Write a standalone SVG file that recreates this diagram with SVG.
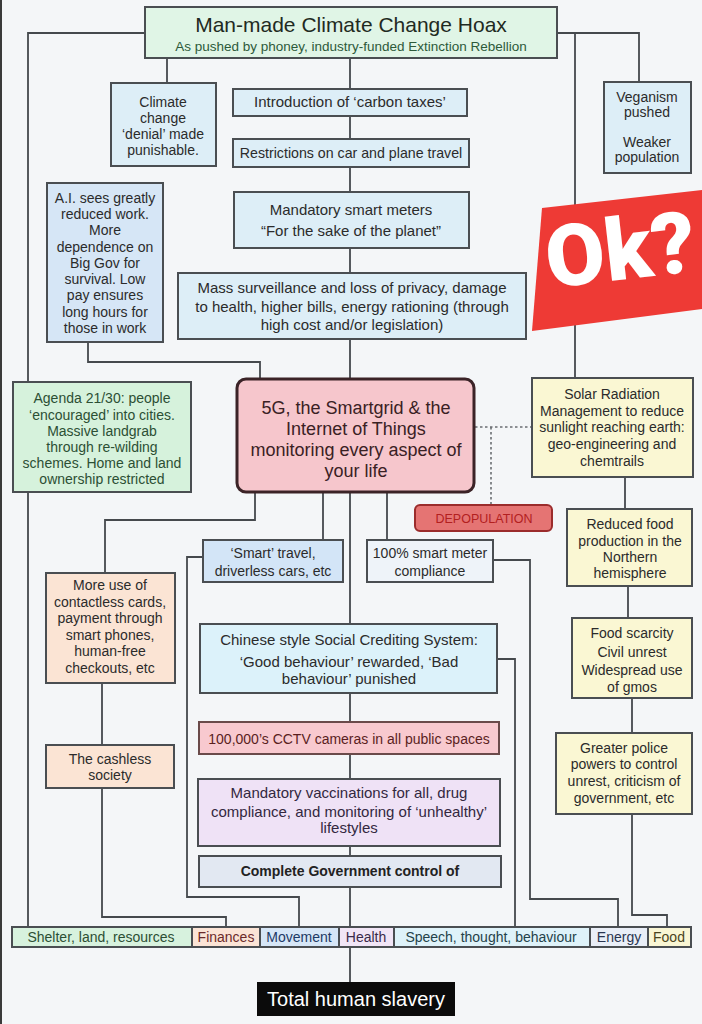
<svg xmlns="http://www.w3.org/2000/svg" width="702" height="1024" viewBox="0 0 702 1024">
<style>
.ln{stroke:#45494d;stroke-width:1.8;fill:none}
.dt{stroke:#6a6e72;stroke-width:1.6;fill:none;stroke-dasharray:2.5 2.5}
.bx{stroke:#4a4e52;stroke-width:2}
.t{font-family:"Liberation Sans",Arial,sans-serif;font-size:14px;fill:#2b2b2b;text-anchor:middle}
.m{font-size:15px}
.g{fill:#2c4f34}
</style>
<rect x="0" y="0" width="702" height="1024" fill="#f4f6f8"/>
<rect x="0" y="0" width="2" height="1024" fill="#3a3a3a"/>
<g id="connectors">
<path class="ln" d="M145 33H28V927"/>
<path class="ln" d="M167 58V83"/>
<path class="ln" d="M350 58V379"/>
<path class="ln" d="M557 33H639V82"/>
<path class="ln" d="M575 33V378"/>
<path class="ln" d="M88 342V362H260V379"/>
<path class="dt" d="M475 427H532M491 427V505"/>
<path class="ln" d="M625 477V509"/>
<path class="ln" d="M628 586V618"/>
<path class="ln" d="M632 698V733"/>
<path class="ln" d="M632 814V915H667V927"/>
<path class="ln" d="M255 492V520H105V573"/>
<path class="ln" d="M323 492V540"/>
<path class="ln" d="M387 492V540"/>
<path class="ln" d="M350 492V982"/>
<path class="ln" d="M203 557H187V897H299V927"/>
<path class="ln" d="M493 560H530V899H618V927"/>
<path class="ln" d="M102 683V745"/>
<path class="ln" d="M102 788V917H226V927"/>
<path class="ln" d="M497 659H515V927"/>
</g>
<g id="title">
<rect class="bx" x="145" y="7" width="412" height="51" fill="#e0f5e6"/>
<text class="t" x="351" y="32" style="font-size:21px;fill:#1f2a22">Man-made Climate Change Hoax</text>
<text class="t" x="351" y="51" style="font-size:13.5px;fill:#2d5a3a">As pushed by phoney, industry-funded Extinction Rebellion</text>
</g>
<g id="denial">
<rect class="bx" x="111" y="83" width="105" height="83" fill="#ddeef7"/>
<text class="t" x="163" y="107">Climate</text>
<text class="t" x="163" y="123">change</text>
<text class="t" x="163" y="139">‘denial’ made</text>
<text class="t" x="163" y="155">punishable.</text>
</g>
<g id="carbon">
<rect class="bx" x="233" y="89" width="234" height="27" fill="#ddeef7"/>
<text class="t m" x="350" y="107">Introduction of ‘carbon taxes’</text>
</g>
<g id="restrictions">
<rect class="bx" x="233" y="139" width="236" height="28" fill="#ddeef7"/>
<text class="t" x="351" y="158" style="font-size:14.2px">Restrictions on car and plane travel</text>
</g>
<g id="veganism">
<rect class="bx" x="604" y="82" width="87" height="91" fill="#ddeef7"/>
<text class="t" x="647" y="102">Veganism</text>
<text class="t" x="647" y="117">pushed</text>
<text class="t" x="647" y="147">Weaker</text>
<text class="t" x="647" y="162">population</text>
</g>
<g id="ai">
<rect class="bx" x="47" y="183" width="116" height="159" fill="#d6e6f6"/>
<text class="t" x="105" y="203">A.I. sees greatly</text>
<text class="t" x="105" y="219">reduced work.</text>
<text class="t" x="105" y="235">More</text>
<text class="t" x="105" y="252">dependence on</text>
<text class="t" x="105" y="268">Big Gov for</text>
<text class="t" x="105" y="284">survival. Low</text>
<text class="t" x="105" y="300">pay ensures</text>
<text class="t" x="105" y="317">long hours for</text>
<text class="t" x="105" y="333">those in work</text>
</g>
<g id="meters">
<rect class="bx" x="234" y="192" width="235" height="56" fill="#ddeef7"/>
<text class="t m" x="351" y="215">Mandatory smart meters</text>
<text class="t m" x="351" y="236">“For the sake of the planet”</text>
</g>
<g id="surveillance">
<rect class="bx" x="178" y="273" width="348" height="66" fill="#ddeef7"/>
<text class="t m" x="352" y="293">Mass surveillance and loss of privacy, damage</text>
<text class="t m" x="352" y="312">to health, higher bills, energy rationing (through</text>
<text class="t m" x="352" y="330">high cost and/or legislation)</text>
</g>
<g id="ok">
<polygon points="542,208 702,190 702,309 532,331" fill="#ee3a35"/>
<text x="549" y="288" transform="rotate(-6.5 549 288)" style="font-family:Roboto,'Liberation Sans',sans-serif;font-weight:900;font-size:86px;fill:#ffffff">Ok?</text>
</g>
<g id="agenda">
<rect class="bx" x="13" y="382" width="178" height="110" fill="#d6f2dc"/>
<text class="t g" x="102" y="403">Agenda 21/30: people</text>
<text class="t g" x="102" y="420">‘encouraged’ into cities.</text>
<text class="t g" x="102" y="436">Massive landgrab</text>
<text class="t g" x="102" y="452">through re-wilding</text>
<text class="t g" x="102" y="468">schemes. Home and land</text>
<text class="t g" x="102" y="484">ownership restricted</text>
</g>
<g id="fiveg">
<rect x="237" y="379" width="237" height="113" rx="9" fill="#f6c6cc" stroke="#3b2327" stroke-width="3"/>
<text class="t" x="356" y="414" style="font-size:18px;fill:#3a2124">5G, the Smartgrid &amp; the</text>
<text class="t" x="356" y="435" style="font-size:18px;fill:#3a2124">Internet of Things</text>
<text class="t" x="356" y="456" style="font-size:18px;fill:#3a2124">monitoring every aspect of</text>
<text class="t" x="356" y="477" style="font-size:18px;fill:#3a2124">your life</text>
</g>
<g id="solar">
<rect class="bx" x="532" y="378" width="161" height="99" fill="#faf7d3"/>
<text class="t" x="612" y="399">Solar Radiation</text>
<text class="t" x="612" y="416">Management to reduce</text>
<text class="t" x="612" y="432">sunlight reaching earth:</text>
<text class="t" x="612" y="449">geo-engineering and</text>
<text class="t" x="612" y="466">chemtrails</text>
</g>
<g id="depopulation">
<rect x="415" y="505" width="137" height="26" rx="5" fill="#e57473" stroke="#9b2c2c" stroke-width="2"/>
<text class="t" x="484" y="523" style="font-size:12.5px;fill:#b3201f">DEPOPULATION</text>
</g>
<g id="reduced">
<rect class="bx" x="567" y="509" width="125" height="77" fill="#faf7d3"/>
<text class="t" x="630" y="529">Reduced food</text>
<text class="t" x="630" y="546">production in the</text>
<text class="t" x="630" y="562">Northern</text>
<text class="t" x="630" y="578">hemisphere</text>
</g>
<g id="scarcity">
<rect class="bx" x="572" y="618" width="120" height="80" fill="#faf7d3"/>
<text class="t" x="632" y="638">Food scarcity</text>
<text class="t" x="632" y="657">Civil unrest</text>
<text class="t" x="632" y="675">Widespread use</text>
<text class="t" x="632" y="692">of gmos</text>
</g>
<g id="police">
<rect class="bx" x="556" y="733" width="136" height="81" fill="#faf7d3"/>
<text class="t" x="624" y="753">Greater police</text>
<text class="t" x="624" y="769">powers to control</text>
<text class="t" x="624" y="786">unrest, criticism of</text>
<text class="t" x="624" y="803">government, etc</text>
</g>
<g id="travel">
<rect class="bx" x="203" y="540" width="140" height="42" fill="#d3e5f7"/>
<text class="t" x="273" y="558">‘Smart’ travel,</text>
<text class="t" x="273" y="576">driverless cars, etc</text>
</g>
<g id="compliance">
<rect class="bx" x="367" y="540" width="126" height="42" fill="#eef3f9"/>
<text class="t" x="430" y="558">100% smart meter</text>
<text class="t" x="430" y="576">compliance</text>
</g>
<g id="contactless">
<rect class="bx" x="46" y="573" width="129" height="110" fill="#fbe4d4"/>
<text class="t" x="110" y="590">More use of</text>
<text class="t" x="110" y="607">contactless cards,</text>
<text class="t" x="110" y="623">payment through</text>
<text class="t" x="110" y="640">smart phones,</text>
<text class="t" x="110" y="656">human-free</text>
<text class="t" x="110" y="673">checkouts, etc</text>
</g>
<g id="cashless">
<rect class="bx" x="46" y="745" width="128" height="43" fill="#fbe4d4"/>
<text class="t" x="110" y="764">The cashless</text>
<text class="t" x="110" y="780">society</text>
</g>
<g id="credit">
<rect class="bx" x="200" y="624" width="297" height="69" fill="#dcf2fa"/>
<text class="t m" x="349" y="645">Chinese style Social Crediting System:</text>
<text class="t m" x="349" y="667">‘Good behaviour’ rewarded, ‘Bad</text>
<text class="t m" x="349" y="684">behaviour’ punished</text>
</g>
<g id="cctv">
<rect x="199" y="722" width="300" height="32" fill="#f8c9cf" stroke="#6a4a4a" stroke-width="2"/>
<text class="t" x="349" y="744" style="fill:#5a1e1e">100,000’s CCTV cameras in all public spaces</text>
</g>
<g id="vaccination">
<rect class="bx" x="198" y="779" width="302" height="67" fill="#efe2f6"/>
<text class="t m" x="349" y="798" style="fill:#33283f">Mandatory vaccinations for all, drug</text>
<text class="t m" x="349" y="817" style="fill:#33283f">compliance, and monitoring of ‘unhealthy’</text>
<text class="t m" x="349" y="833" style="fill:#33283f">lifestyles</text>
</g>
<g id="control">
<rect class="bx" x="199" y="856" width="302" height="31" fill="#e2e8f2"/>
<text class="t" x="350" y="876" style="font-weight:bold;fill:#222">Complete Government control of</text>
</g>
<g id="domains">
<rect class="bx" x="12" y="927" width="180" height="20" fill="#d7f2de"/>
<text class="t" x="101" y="942" style="fill:#2c4f34">Shelter, land, resources</text>
<rect class="bx" x="192" y="927" width="68" height="20" fill="#fbe4d6"/>
<text class="t" x="226" y="942" style="fill:#6b2a2a">Finances</text>
<rect class="bx" x="260" y="927" width="79" height="20" fill="#d6e6f7"/>
<text class="t" x="299" y="942" style="fill:#1d3a66">Movement</text>
<rect class="bx" x="339" y="927" width="55" height="20" fill="#f1e5f6"/>
<text class="t" x="366" y="942" style="fill:#3a2a4a">Health</text>
<rect class="bx" x="394" y="927" width="196" height="20" fill="#def2f9"/>
<text class="t" x="491" y="942" style="fill:#24424a">Speech, thought, behaviour</text>
<rect class="bx" x="590" y="927" width="58" height="20" fill="#e9eef7"/>
<text class="t" x="619" y="942" style="fill:#2a3550">Energy</text>
<rect class="bx" x="648" y="927" width="43" height="20" fill="#f9f6d4"/>
<text class="t" x="669" y="942" style="fill:#4a4420">Food</text>
</g>
<g id="slavery">
<rect x="257" y="982" width="198" height="34" fill="#0b0b0b"/>
<text class="t" x="356" y="1006" style="font-size:20px;fill:#ffffff">Total human slavery</text>
</g>
</svg>
